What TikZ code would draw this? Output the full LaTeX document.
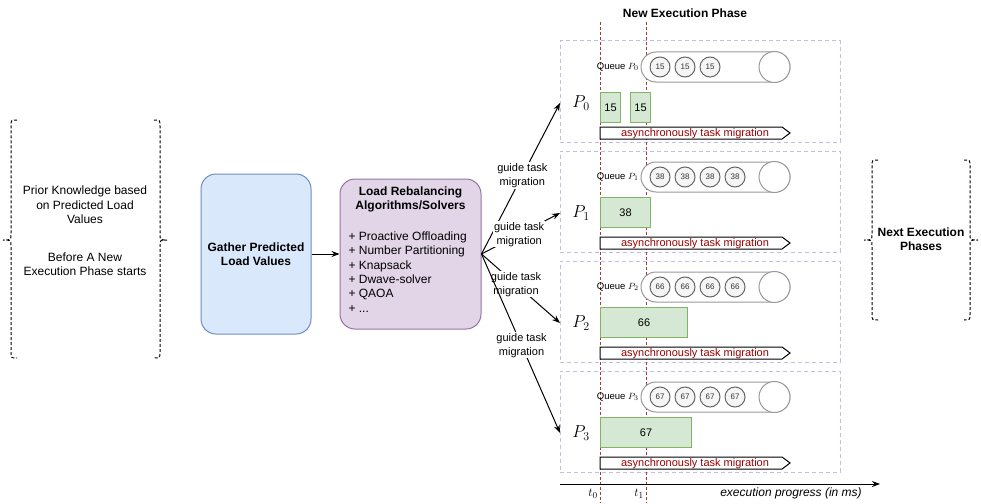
\documentclass[tikz,border=0pt]{standalone}
\usepackage{fontspec}
\setmainfont{Liberation Sans}
\usetikzlibrary{arrows.meta}
\definecolor{gfill}{HTML}{DAE8FC}
\definecolor{gdraw}{HTML}{6C8EBF}
\definecolor{lfill}{HTML}{E1D5E7}
\definecolor{ldraw}{HTML}{9673A6}
\definecolor{tfill}{HTML}{D5E8D4}
\definecolor{tdraw}{HTML}{82B366}
\definecolor{qfill}{HTML}{F5F5F5}
\definecolor{qdraw}{HTML}{666666}
\definecolor{capc}{HTML}{999999}
\definecolor{redc}{HTML}{A33A3A}
\definecolor{panelc}{HTML}{C3BBE8}
\definecolor{migc}{HTML}{990000}
\begin{document}
\begin{tikzpicture}[x=1pt,y=-1pt,line width=1pt,
  txt/.style={font=\fontsize{12}{14.4}\selectfont},
  panel/.style={draw=panelc,dash pattern=on 4pt off 3pt,minimum width=280,minimum height=101,inner sep=0},
  redline/.style={draw=redc,dash pattern=on 3pt off 2pt},
  capsule/.style={draw=capc,fill=white,rounded corners=15},
  qend/.style={circle,draw=capc,fill=white,minimum size=31,inner sep=0},
  qcircle/.style={circle,draw=qdraw,fill=qfill,text=black!80,minimum size=20,inner sep=0,font=\fontsize{8}{9}\selectfont},
  qlabel/.style={inner sep=0,font=\fontsize{9.5}{11}\selectfont},
  plabel/.style={inner sep=0,font=\fontsize{17}{20}\selectfont},
  taskbox/.style={draw=tdraw,fill=tfill,minimum height=30,inner sep=0,anchor=north west,font=\fontsize{11}{13}\selectfont},
  migshape/.style={draw=black,fill=white},
  migtext/.style={inner sep=0,text=migc,font=\fontsize{11}{13}\selectfont},
  glabel/.style={fill=white,inner sep=1pt,align=center,font=\fontsize{11}{14}\selectfont},
  bracestyle/.style={draw=black,dash pattern=on 3pt off 2pt},
  arr/.style={-{Stealth[length=8pt,width=6pt]}}
]
\useasboundingbox (0,0) rectangle (981,503);

% left brace group
\draw[bracestyle] (17,120) .. controls (11,120) .. (11,126) -- (11,234) .. controls (11,240) .. (3,240) .. controls (11,240) .. (11,246) -- (11,352) .. controls (11,358) .. (17,358);
\draw[bracestyle] (154,120) .. controls (160,120) .. (160,126) -- (160,234) .. controls (160,240) .. (167,240) .. controls (160,240) .. (160,246) -- (160,352) .. controls (160,358) .. (154,358);
\node[txt,align=center,inner sep=0] (prior) at (85,231) {Prior Knowledge based\\on Predicted Load\\Values\\[23pt]Before A New\\Execution Phase starts};

% gather and solver boxes
\node[txt,draw=gdraw,fill=gfill,rounded corners=15,minimum width=110,minimum height=160,align=center,font=\bfseries\fontsize{12}{14.4}\selectfont] (gather) at (256,254) {Gather Predicted\\Load Values};
\node[draw=ldraw,fill=lfill,rounded corners=15,minimum width=141,minimum height=150] (lr) at (410.5,254) {};
\node[txt,align=center,inner sep=0,font=\bfseries\fontsize{12}{14.4}\selectfont] (lrtitle) at (410.5,199.5) {Load Rebalancing\\Algorithms/Solvers};
\node[txt,align=left,inner sep=0,anchor=west] (lrlist) at (348,272) {+ Proactive Offloading\\+ Number Partitioning\\+ Knapsack\\+ Dwave-solver\\+ QAOA\\+ ...};
\draw[arr] (gather.east) -- (lr.west);

% top title
\node[txt,font=\bfseries\fontsize{12}{14.4}\selectfont] (newphase) at (685,13) {New Execution Phase};

% panels
\foreach \i/\T in {0/41,1/151,2/261,3/371} {
  \node[panel] (panel\i) at (700,\T+50.5) {};
}
% red time lines
\coordinate (r0top) at (600,22);
\coordinate (r0bot) at (600,503);
\coordinate (r1top) at (646,22);
\coordinate (r1bot) at (646,503);
\draw[redline] (r0top) -- (r0bot);
\draw[redline] (r1top) -- (r1bot);

\foreach \i/\T/\num/\cnt in {0/41/15/3,1/151/38/4,2/261/66/4,3/371/67/4} {
  \node[plabel] (plab\i) at (581,\T+62) {$P_{\i}$};
  \draw[capsule] (641,\T+11) rectangle (790,\T+41);
  \node[qend] (qend\i) at (774.5,\T+26) {};
  \node[qlabel,anchor=east] (qlab\i) at (639,\T+26) {Queue $P_{\i}$};
  \foreach \k in {1,...,\cnt} {
    \node[qcircle] (q\i-\k) at (635+25*\k,\T+26) {\num};
  }
  \draw[migshape] (600,\T+86) -- (782,\T+86) -- (790,\T+92) -- (782,\T+98) -- (600,\T+98) -- cycle;
  \node[migtext] (mig\i) at (695,\T+92.5) {asynchronously task migration};
  \coordinate (pin\i) at (560,\T+62);
}

% task boxes
\node[taskbox,minimum width=20] (t0a) at (600,92) {15};
\node[taskbox,minimum width=20] (t0b) at (630,92) {15};
\node[taskbox,minimum width=50] (t1) at (600,197) {38};
\node[taskbox,minimum width=87] (t2) at (600,307) {66};
\node[taskbox,minimum width=91] (t3) at (600,417) {67};

% guide arrows
\draw[arr] (lr.east) -- node[glabel,pos=0.52] (g0) {guide task\\migration} (pin0);
\draw[arr] (lr.east) -- node[glabel,pos=0.48] (g1) {guide task\\migration} (pin1);
\draw[arr] (lr.east) -- node[glabel,pos=0.44] (g2) {guide task\\migration} (pin2);
\draw[arr] (lr.east) -- node[glabel,pos=0.51] (g3) {guide task\\migration} (pin3);

% time axis
\coordinate (ax0) at (560,484);
\coordinate (ax1) at (880,484);
\draw[arr] (ax0) -- (ax1);
\node[inner sep=0,font=\fontsize{13}{15}\selectfont] (t0lab) at (593,494) {$t_0$};
\node[inner sep=0,font=\fontsize{13}{15}\selectfont] (t1lab) at (639,494) {$t_1$};
\node[inner sep=0,font=\itshape\fontsize{12}{14}\selectfont] (prog) at (791,493) {execution progress (in ms)};

% right brace group
\draw[bracestyle] (878,160) .. controls (872,160) .. (872,166) -- (872,234) .. controls (872,240) .. (864,240) .. controls (872,240) .. (872,246) -- (872,314) .. controls (872,320) .. (878,320);
\draw[bracestyle] (964,160) .. controls (970,160) .. (970,166) -- (970,234) .. controls (970,240) .. (978,240) .. controls (970,240) .. (970,246) -- (970,314) .. controls (970,320) .. (964,320);
\node[txt,align=center,inner sep=0,font=\bfseries\fontsize{12}{14.4}\selectfont] (next) at (921,239) {Next Execution\\Phases};
\end{tikzpicture}
\end{document}
